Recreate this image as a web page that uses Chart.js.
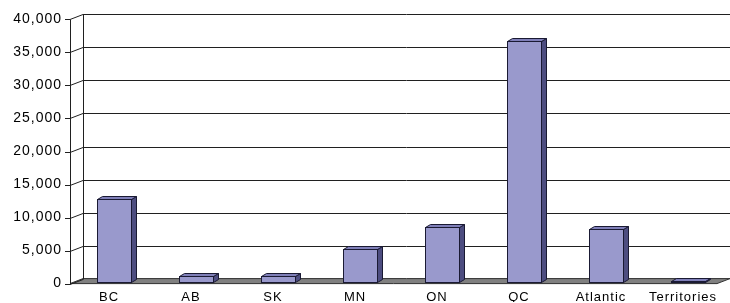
<!DOCTYPE html>
<html>
<head>
<meta charset="utf-8">
<script src="https://cdn.jsdelivr.net/npm/chart.js@4/dist/chart.umd.min.js"></script>
<style>
  html, body { margin: 0; padding: 0; background: #fff; }
  #wrap { width: 730px; height: 303px; }
</style>
</head>
<body>
<div id="wrap"><canvas id="chart"></canvas></div>
<script>
const regions = ['BC', 'AB', 'SK', 'MN', 'ON', 'QC', 'Atlantic', 'Territories'];
const counts = [12500, 900, 800, 5000, 8300, 36400, 8000, 100];
const yTicks = [0, 5000, 10000, 15000, 20000, 25000, 30000, 35000, 40000];

// depth of the 3d box (wall) and of the bars, in px
const wallDx = 13, wallDy = 5;
const barDx = 5, barDy = 3, barShift = 2;

const threeD = {
    id: 'threeD',
    beforeDraw(chart) {
        chart.ctx.letterSpacing = '1px';
    },
    beforeDatasetsDraw() {
        return false; // bars are drawn by hand below
    },
    afterDraw(chart) {
        const ctx = chart.ctx;
        const y = chart.scales.y;
        const area = chart.chartArea;
        const frontX = area.left - 3;
        const backX = frontX + wallDx;
        const y0 = y.getPixelForValue(0);
        const yTop = y.getPixelForValue(40000);
        ctx.save();
        ctx.letterSpacing = '0px';
        ctx.lineWidth = 1;

        // floor
        ctx.fillStyle = '#808080';
        ctx.strokeStyle = '#303030';
        ctx.beginPath();
        ctx.moveTo(frontX, y0);
        ctx.lineTo(730 - wallDx, y0);
        ctx.lineTo(730, y0 - wallDy);
        ctx.lineTo(backX, y0 - wallDy);
        ctx.closePath();
        ctx.fill();
        ctx.stroke();

        // back wall gridlines, left wall diagonals, front ticks
        ctx.strokeStyle = '#202020';
        yTicks.forEach(v => {
            const py = Math.round(y.getPixelForValue(v)) + 0.5;
            ctx.beginPath();
            if (v > 0) {
                ctx.moveTo(backX, py - wallDy);
                ctx.lineTo(730, py - wallDy);
            }
            ctx.moveTo(frontX - 5, py);
            ctx.lineTo(frontX, py);
            ctx.lineTo(backX, py - wallDy);
            ctx.stroke();
        });
        ctx.beginPath();
        ctx.moveTo(frontX + 0.5, Math.round(yTop) + 0.5);
        ctx.lineTo(frontX + 0.5, Math.round(y0) + 0.5);
        ctx.moveTo(backX + 0.5, Math.round(yTop) + 0.5 - wallDy);
        ctx.lineTo(backX + 0.5, Math.round(y0) + 0.5 - wallDy);
        ctx.stroke();

        // bars
        const meta = chart.getDatasetMeta(0);
        ctx.strokeStyle = '#1a1a33';
        meta.data.forEach(el => {
            const l = Math.round(el.x - el.width / 2) + 0.5;
            const r = Math.round(el.x + el.width / 2) + 0.5;
            const t = Math.round(el.y) + 0.5 - barShift;
            const b = Math.round(el.base) + 0.5 - barShift;
            // side
            ctx.fillStyle = '#4d4d80';
            ctx.beginPath();
            ctx.moveTo(r, t);
            ctx.lineTo(r + barDx, t - barDy);
            ctx.lineTo(r + barDx, b - barDy);
            ctx.lineTo(r, b);
            ctx.closePath();
            ctx.fill();
            ctx.stroke();
            // top
            ctx.fillStyle = '#7f7fb8';
            ctx.beginPath();
            ctx.moveTo(l, t);
            ctx.lineTo(l + barDx, t - barDy);
            ctx.lineTo(r + barDx, t - barDy);
            ctx.lineTo(r, t);
            ctx.closePath();
            ctx.fill();
            ctx.stroke();
            // front
            ctx.fillStyle = '#9999cc';
            ctx.fillRect(l, t, r - l, b - t);
            ctx.strokeRect(l, t, r - l, b - t);
        });
        ctx.restore();
    }
};

new Chart(document.getElementById('chart'), {
    type: 'bar',
    data: {
        labels: regions,
        datasets: [{
            data: counts,
            backgroundColor: '#9999cc',
            barPercentage: 0.415,
            categoryPercentage: 1
        }]
    },
    options: {
        responsive: true,
        maintainAspectRatio: false,
        animation: false,
        layout: { padding: { top: 18, right: 1, left: 0, bottom: 0 } },
        plugins: { legend: { display: false }, tooltip: { enabled: false } },
        scales: {
            x: {
                grid: { display: false, drawTicks: false },
                border: { display: false },
                afterFit(scale) { scale.height = 18.5; },
                ticks: {
                    color: '#000',
                    padding: 6,
                    labelOffset: -5,
                    maxRotation: 0,
                    autoSkip: false,
                    font: { family: "'Liberation Sans', Arial", size: 13 }
                }
            },
            y: {
                min: 0,
                max: 40000,
                grid: { display: false, drawTicks: false },
                border: { display: false },
                afterFit(scale) { scale.width = 73; },
                ticks: {
                    stepSize: 5000,
                    color: '#000',
                    padding: 11,
                    font: { family: "'Liberation Sans', Arial", size: 14 },
                    callback: v => v.toLocaleString('en-US')
                }
            }
        }
    },
    plugins: [threeD]
});
</script>
</body>
</html>
